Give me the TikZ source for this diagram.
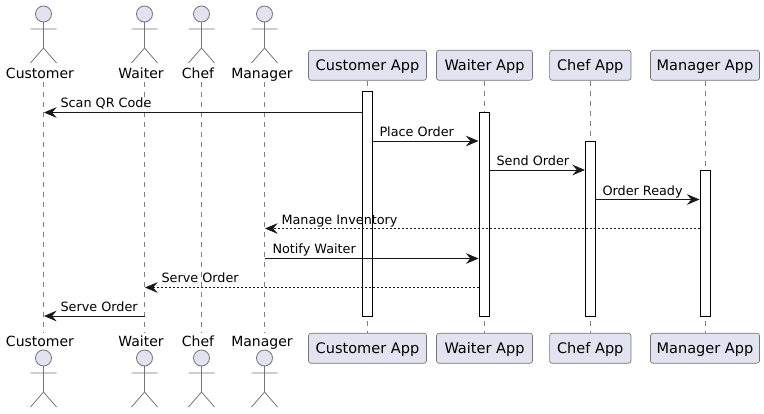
\documentclass[tikz,border=0pt]{standalone}
\usepackage{fontspec}
\setmainfont{DejaVu Sans}
\usetikzlibrary{arrows.meta}

\definecolor{boxfill}{HTML}{E2E2F0}
\definecolor{boxline}{HTML}{181818}

\tikzset{every picture/.style={line width=0.75pt}}
\tikzset{
	appbox/.style={draw=boxline!60,line width=0.5pt,fill=boxfill,rounded corners=1.9pt,inner sep=0pt,minimum height=22.5pt,text height=10pt,text depth=2.5pt,font=\fontsize{10.9pt}{12pt}\selectfont},
	actorname/.style={inner sep=0pt,anchor=base,font=\fontsize{10.5pt}{12pt}\selectfont},
	msglabel/.style={inner sep=0pt,anchor=base west,font=\fontsize{9.6pt}{12pt}\selectfont},
	lifeline/.style={draw=boxline!55,line width=0.5pt,dash pattern=on 3.75pt off 3.75pt},
	actbar/.style={draw=black,line width=0.6pt,fill=white},
	msgarrow/.style={draw=boxline,line width=0.6pt,-{Stealth[length=9.5pt,width=8pt,inset=3.4pt]}},
	msgreturn/.style={msgarrow,dash pattern=on 1.5pt off 1.5pt},
	actorman/.pic={
		\draw [draw=boxline!60,line width=0.6pt,fill=boxfill] (0,8) circle [radius=8];
		\draw [draw=boxline!60,line width=0.6pt] (0,16) -- (0,42) (-13,23) -- (13,23) (-13,57) -- (0,42) -- (13,57);
	}
}

\begin{document}
\begin{tikzpicture}[x=0.75pt,y=0.75pt,yscale=-1,xscale=1]
	\useasboundingbox (0,0) rectangle (764,414);

	%Lifeline ends
	\coordinate (custTop) at (43.5,82);
	\coordinate (custBot) at (43.5,333);
	\coordinate (waitTop) at (144.5,82);
	\coordinate (waitBot) at (144.5,333);
	\coordinate (chefTop) at (201.5,82);
	\coordinate (chefBot) at (201.5,333);
	\coordinate (mgrTop) at (264.5,82);
	\coordinate (mgrBot) at (264.5,333);

	%Lifelines
	\draw [lifeline] (custTop) -- (custBot);
	\draw [lifeline] (waitTop) -- (waitBot);
	\draw [lifeline] (chefTop) -- (chefBot);
	\draw [lifeline] (mgrTop) -- (mgrBot);

	%Top row of participants
	\pic [transform shape] at (43.5,6) {actorman};
	\pic [transform shape] at (144.5,6) {actorman};
	\pic [transform shape] at (201.5,6) {actorman};
	\pic [transform shape] at (264.5,6) {actorman};
	\node [actorname] (custName) at (40,78) {Customer};
	\node [actorname] (waitName) at (141,78) {Waiter};
	\node [actorname] (chefName) at (198,78) {Chef};
	\node [actorname] (mgrName) at (262,78) {Manager};
	\node [appbox,minimum width=88.5pt] (custApp) at (367.5,65.25) {Customer App};
	\node [appbox,minimum width=72pt] (waitApp) at (484.5,65.25) {Waiter App};
	\node [appbox,minimum width=61pt] (chefApp) at (590.25,65.25) {Chef App};
	\node [appbox,minimum width=81.75pt] (mgrApp) at (705,65.25) {Manager App};

	%Bottom row of participants
	\pic [transform shape] at (43.5,350) {actorman};
	\pic [transform shape] at (144.5,350) {actorman};
	\pic [transform shape] at (201.5,350) {actorman};
	\pic [transform shape] at (264.5,350) {actorman};
	\node [actorname] (custNameB) at (40,346) {Customer};
	\node [actorname] (waitNameB) at (141,346) {Waiter};
	\node [actorname] (chefNameB) at (198,346) {Chef};
	\node [actorname] (mgrNameB) at (262,346) {Manager};
	\node [appbox,minimum width=88.5pt] (custAppB) at (367.5,348.25) {Customer App};
	\node [appbox,minimum width=72pt] (waitAppB) at (484.5,348.25) {Waiter App};
	\node [appbox,minimum width=61pt] (chefAppB) at (590.25,348.25) {Chef App};
	\node [appbox,minimum width=81.75pt] (mgrAppB) at (705,348.25) {Manager App};

	\draw [lifeline] (custApp) -- (custAppB);
	\draw [lifeline] (waitApp) -- (waitAppB);
	\draw [lifeline] (chefApp) -- (chefAppB);
	\draw [lifeline] (mgrApp) -- (mgrAppB);

	%Activation bars
	\draw [actbar] (362,91.5) rectangle (372,316);
	\draw [actbar] (479,112.5) rectangle (489,316);
	\draw [actbar] (585.5,141.5) rectangle (595.5,316);
	\draw [actbar] (700,170.5) rectangle (710,316);

	%Message ends
	\coordinate (scanA) at (362,112.5);
	\coordinate (scanB) at (44,112.5);
	\coordinate (placeA) at (372,141);
	\coordinate (placeB) at (478.5,141);
	\coordinate (sendA) at (489,170);
	\coordinate (sendB) at (585,170);
	\coordinate (readyA) at (595.5,199.5);
	\coordinate (readyB) at (699.5,199.5);
	\coordinate (invA) at (700,228.5);
	\coordinate (invB) at (265,228.5);
	\coordinate (notifyA) at (264.5,258.5);
	\coordinate (notifyB) at (478.5,258.5);
	\coordinate (serveA) at (479,287.5);
	\coordinate (serveB) at (145,287.5);
	\coordinate (handA) at (144.5,316);
	\coordinate (handB) at (44,316);

	%Messages
	\draw [msgarrow] (scanA) -- (scanB);
	\draw [msgarrow] (placeA) -- (placeB);
	\draw [msgarrow] (sendA) -- (sendB);
	\draw [msgarrow] (readyA) -- (readyB);
	\draw [msgreturn] (invA) -- (invB);
	\draw [msgarrow] (notifyA) -- (notifyB);
	\draw [msgreturn] (serveA) -- (serveB);
	\draw [msgarrow] (handA) -- (handB);

	%Message labels
	\node [msglabel] (scanText) at (60,107) {Scan QR Code};
	\node [msglabel] (placeText) at (379,136) {Place Order};
	\node [msglabel] (sendText) at (496,165) {Send Order};
	\node [msglabel] (readyText) at (602,195) {Order Ready};
	\node [msglabel] (invText) at (281,224) {Manage Inventory};
	\node [msglabel] (notifyText) at (272,253) {Notify Waiter};
	\node [msglabel] (serveText) at (161,282) {Serve Order};
	\node [msglabel] (handText) at (60,311) {Serve Order};

\end{tikzpicture}
\end{document}
